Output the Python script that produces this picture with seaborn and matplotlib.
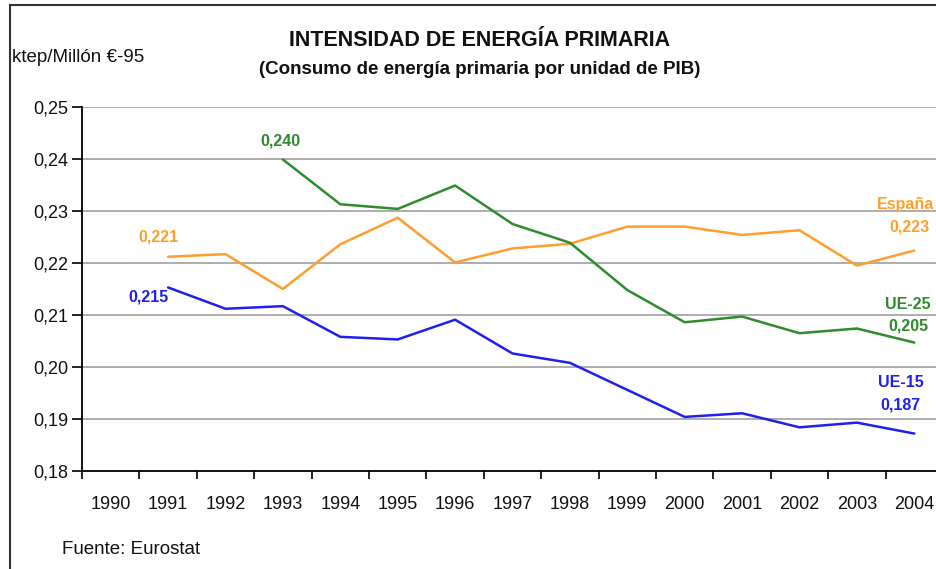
import numpy as np
import pandas as pd
import matplotlib.pyplot as plt
import seaborn as sns
from matplotlib.patches import Rectangle
from matplotlib.ticker import FixedLocator, FuncFormatter

# Data
years = list(range(1990, 2005))
espana = [np.nan, 0.2212, 0.2217, 0.2150, 0.2236, 0.2287, 0.2201, 0.2228,
          0.2237, 0.2270, 0.2270, 0.2254, 0.2263, 0.2195, 0.2224]
ue25 = [np.nan, np.nan, np.nan, 0.2399, 0.2313, 0.2304, 0.2349, 0.2275,
        0.2239, 0.2148, 0.2086, 0.2097, 0.2065, 0.2074, 0.2047]
ue15 = [np.nan, 0.2153, 0.2112, 0.2117, 0.2058, 0.2053, 0.2091, 0.2026,
        0.2008, 0.1956, 0.1904, 0.1911, 0.1884, 0.1893, 0.1872]
y_ticks = [0.18, 0.19, 0.20, 0.21, 0.22, 0.23, 0.24, 0.25]

colors = {'España': '#FF9E2C', 'UE-25': '#2E8B2E', 'UE-15': '#1F1FF0'}

df = pd.DataFrame({'year': years, 'España': espana, 'UE-25': ue25, 'UE-15': ue15})
long_df = df.melt(id_vars='year', var_name='serie', value_name='valor').dropna()

sns.set_style('white')
plt.rcParams['font.family'] = ['Liberation Sans', 'DejaVu Sans']

fig = plt.figure(figsize=(9.36, 5.69), dpi=100)
ax = fig.add_axes([82/936, 1 - 471/569, 861/936, 364/569])

sns.lineplot(data=long_df, x='year', y='valor', hue='serie', palette=colors,
             estimator=None, sort=True, linewidth=1.8, legend=False, ax=ax)

ax.set_xlim(1989.5, 2004.5)
ax.set_ylim(0.18, 0.25)
ax.set_xlabel('')
ax.set_ylabel('')

# category style x-axis: ticks between years, labels at centers
ax.xaxis.set_major_locator(FixedLocator(np.arange(1989.5, 2005, 1)))
ax.xaxis.set_major_formatter(FuncFormatter(lambda v, p: ''))
ax.xaxis.set_minor_locator(FixedLocator(years))
ax.set_xticklabels([str(y) for y in years], minor=True)
ax.tick_params(axis='x', which='major', bottom=True, direction='out', length=6, width=1.2,
               color='black')
ax.tick_params(axis='x', which='minor', bottom=True, length=0, pad=18, labelsize=13,
               labelcolor='#111111')

ax.set_yticks(y_ticks)
ax.yaxis.set_major_formatter(FuncFormatter(lambda v, p: f'{v:.2f}'.replace('.', ',')))
ax.tick_params(axis='y', left=True, direction='out', length=7, width=1.2, color='black',
               labelsize=13, pad=3, labelcolor='#111111')

ax.grid(axis='y', color='#a0a0a0', linewidth=1.2)
ax.set_axisbelow(True)
for s in ['top', 'right']:
    ax.spines[s].set_visible(False)
for s in ['left', 'bottom']:
    ax.spines[s].set_color('black')
    ax.spines[s].set_linewidth(1.3)

# value labels
def label(serie, year, text, dx, dy):
    v = df.loc[df['year'] == year, serie].iloc[0]
    ax.annotate(text, xy=(year, v), xytext=(dx, dy), textcoords='offset pixels',
                ha='center', va='center', color=colors[serie],
                fontsize=11.5, fontweight='bold', annotation_clip=False)

label('UE-25', 1993, '0,240', -2, 19)
label('España', 1991, '0,221', -10, 20)
label('UE-15', 1991, '0,215', -20, -10)
label('España', 2004, 'España', -9, 46)
label('España', 2004, '0,223', -5, 24)
label('UE-25', 2004, 'UE-25', -6, 38)
label('UE-25', 2004, '0,205', -6, 17)
label('UE-15', 2004, 'UE-15', -13, 51)
label('UE-15', 2004, '0,187', -14, 29)

# titles and notes
fig.text(480/936, 1 - 41/569, 'INTENSIDAD DE ENERGÍA PRIMARIA', ha='center', va='center',
         fontsize=15.5, fontweight='bold', color='#111111')
fig.text(480/936, 1 - 69/569, '(Consumo de energía primaria por unidad de PIB)', ha='center',
         va='center', fontsize=13.5, fontweight='bold', color='#111111')
fig.text(12/936, 1 - 58/569, 'ktep/Millón €-95', ha='left', va='center', fontsize=13.5,
         color='#111111')
fig.text(62/936, 1 - 550/569, 'Fuente: Eurostat', ha='left', va='center', fontsize=13.5,
         color='#111111')

# outer frame of the original chart area
fig.patches.append(Rectangle((10/936, -0.2), 2, 1.2 - 5/569, transform=fig.transFigure,
                             fill=False, edgecolor='#333333', linewidth=1.5))

fig.savefig('out.png', dpi=100)
